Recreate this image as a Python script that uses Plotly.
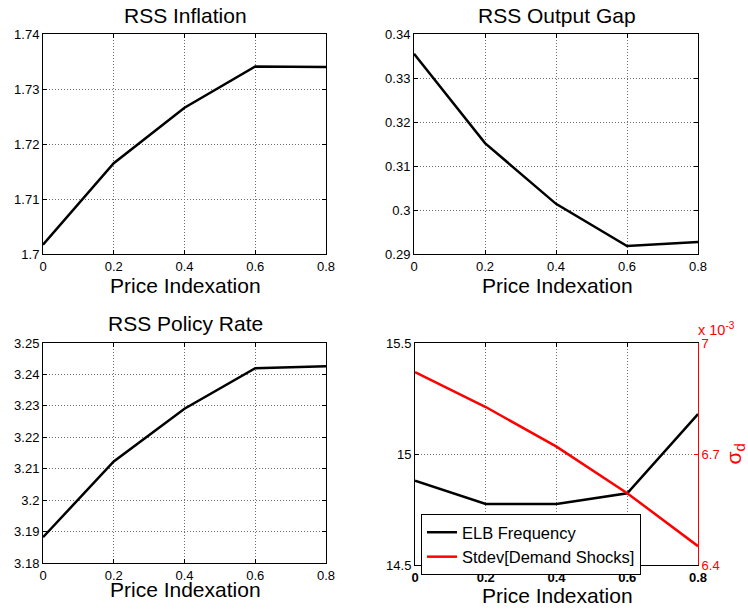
import plotly.graph_objects as go

x = [0, 0.2, 0.4, 0.6, 0.8]
x_ticks = [0, 0.2, 0.4, 0.6, 0.8]
x_ticktext = ["0", "0.2", "0.4", "0.6", "0.8"]

inflation = [1.7017, 1.7165, 1.7266, 1.7341, 1.7340]
output_gap = [0.3355, 0.3152, 0.3014, 0.2918, 0.2927]
policy_rate = [3.1882, 3.2123, 3.2291, 3.2420, 3.2426]
elb_freq = [14.88, 14.775, 14.775, 14.823, 15.18]
stdev_demand = [6.921e-3, 6.827e-3, 6.720e-3, 6.594e-3, 6.451e-3]

infl_ticks = [1.70, 1.71, 1.72, 1.73, 1.74]
infl_text = ["1.7", "1.71", "1.72", "1.73", "1.74"]
gap_ticks = [0.29, 0.30, 0.31, 0.32, 0.33, 0.34]
gap_text = ["0.29", "0.3", "0.31", "0.32", "0.33", "0.34"]
rate_ticks = [3.18, 3.19, 3.20, 3.21, 3.22, 3.23, 3.24, 3.25]
rate_text = ["3.18", "3.19", "3.2", "3.21", "3.22", "3.23", "3.24", "3.25"]
elb_ticks = [14.5, 15, 15.5]
elb_text = ["14.5", "15", "15.5"]
sd_ticks = [6.4e-3, 6.7e-3, 7.0e-3]
sd_text = ["6.4", "6.7", "7"]

W, H = 748, 610
FONT = "Liberation Sans, Arial, Helvetica, sans-serif"

def px_x(a, b):
    return [a / W, b / W]

def px_y(top, bottom):
    return [1 - bottom / H, 1 - top / H]

fig = go.Figure()

fig.add_trace(go.Scatter(x=x, y=inflation, mode="lines", line=dict(color="black", width=2.5),
                         xaxis="x", yaxis="y", showlegend=False))
fig.add_trace(go.Scatter(x=x, y=output_gap, mode="lines", line=dict(color="black", width=2.5),
                         xaxis="x2", yaxis="y2", showlegend=False))
fig.add_trace(go.Scatter(x=x, y=policy_rate, mode="lines", line=dict(color="black", width=2.5),
                         xaxis="x3", yaxis="y3", showlegend=False))
fig.add_trace(go.Scatter(x=x, y=elb_freq, mode="lines", line=dict(color="black", width=2.5),
                         xaxis="x4", yaxis="y4", name="ELB Frequency"))
fig.add_trace(go.Scatter(x=x, y=stdev_demand, mode="lines", line=dict(color="red", width=2.5),
                         xaxis="x4", yaxis="y5", name="Stdev[Demand Shocks]"))

grid = dict(showgrid=True, gridcolor="#707070", griddash="1px,2px", gridwidth=1)
common = dict(showline=True, linecolor="black", linewidth=1, ticks="inside", ticklen=4,
              tickcolor="black", zeroline=False, automargin=False,
              tickfont=dict(family=FONT, size=13, color="black"), **grid)

def xax(dom, anchor, bold=False):
    d = dict(common)
    d.update(domain=dom, anchor=anchor, range=[0, 0.8], tickvals=x_ticks, ticktext=x_ticktext,
             mirror="ticks")
    if bold:
        d["tickfont"] = dict(family=FONT, size=13, color="black", weight="bold")
    return d

def yax(dom, anchor, rng, tv, tt, mirror="ticks"):
    d = dict(common)
    d.update(domain=dom, anchor=anchor, range=rng, tickvals=tv, ticktext=tt, mirror=mirror)
    return d

dx_l = px_x(43, 326)
dx_r = px_x(414, 698)
dx_br = px_x(415, 698)
dy_t = px_y(34, 254)
dy_b = px_y(343, 563)
dy_br = px_y(343, 565)

fig.update_layout(
    width=W, height=H,
    margin=dict(l=0, r=0, t=0, b=0),
    paper_bgcolor="white", plot_bgcolor="white",
    font=dict(family=FONT, color="black"),
    xaxis=xax(dx_l, "y"),
    yaxis=yax(dy_t, "x", [1.70, 1.74], infl_ticks, infl_text),
    xaxis2=xax(dx_r, "y2"),
    yaxis2=yax(dy_t, "x2", [0.29, 0.34], gap_ticks, gap_text),
    xaxis3=xax(dx_l, "y3"),
    yaxis3=yax(dy_b, "x3", [3.18, 3.25], rate_ticks, rate_text),
    xaxis4=xax(dx_br, "y4", bold=True),
    yaxis4=yax(dy_br, "x4", [14.5, 15.5], elb_ticks, elb_text, mirror=False),
    yaxis5=dict(domain=dy_br, anchor="x4", overlaying="y4", side="right", range=[6.4e-3, 7.0e-3],
                tickvals=sd_ticks, ticktext=sd_text, showgrid=False, zeroline=False,
                showline=True, linecolor="red", linewidth=1, ticks="inside", ticklen=4,
                tickcolor="red", automargin=False,
                tickfont=dict(family=FONT, size=13, color="red"),
                title=dict(text="σ<sub>d</sub>", font=dict(family=FONT, size=21, color="red"),
                           standoff=8)),
    legend=dict(x=421 / W, y=1 - 514 / H, xanchor="left", yanchor="top",
                bgcolor="white", bordercolor="black", borderwidth=1,
                font=dict(family=FONT, size=16.5, color="black"), itemwidth=30,
                tracegroupgap=0),
)

annotations = [
    dict(text="RSS Inflation", x=185 / W, y=1 - 15 / H),
    dict(text="RSS Output Gap", x=557 / W, y=1 - 15 / H),
    dict(text="RSS Policy Rate", x=185 / W, y=1 - 323 / H),
    dict(text="Price Indexation", x=185 / W, y=1 - 286 / H),
    dict(text="Price Indexation", x=557 / W, y=1 - 286 / H),
    dict(text="Price Indexation", x=185 / W, y=1 - 589 / H),
    dict(text="Price Indexation", x=557 / W, y=1 - 595 / H),
]
for a in annotations:
    fig.add_annotation(xref="paper", yref="paper", showarrow=False, xanchor="center", yanchor="middle",
                       font=dict(family=FONT, size=21, color="black"), **a)

fig.add_annotation(xref="paper", yref="paper", showarrow=False, xanchor="left", yanchor="bottom",
                   x=696 / W, y=1 - 340 / H, text="x 10<sup>-3</sup>",
                   font=dict(family=FONT, size=14.5, color="red"))

fig.write_html("out.html", config={"displayModeBar": False},
               post_script="document.body.style.margin='0';document.body.style.overflow='hidden';")
